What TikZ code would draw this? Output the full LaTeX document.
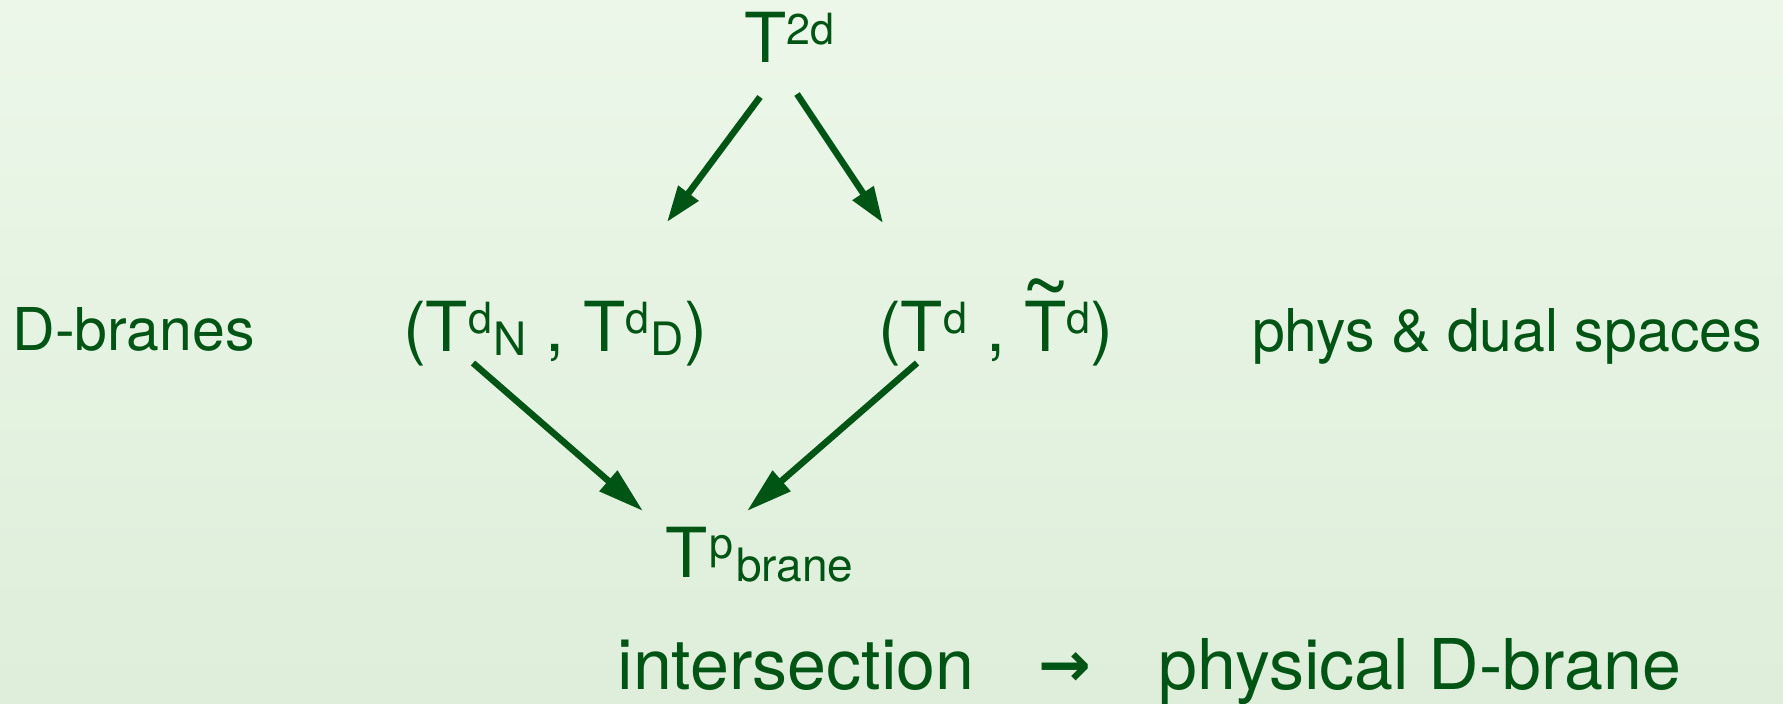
\documentclass[tikz,border=0pt]{standalone}
\usepackage{fontspec}
\setmainfont{TeX Gyre Heros}
\newfontfamily\arrowfont{DejaVu Sans}
\usetikzlibrary{arrows.meta,calc}
\definecolor{dgreen}{RGB}{0,84,20}
\definecolor{bgtop}{RGB}{236,247,233}
\definecolor{bgbot}{RGB}{222,238,218}
\newcommand{\fsz}[1]{\fontsize{#1}{#1}\selectfont}
\newcommand{\sups}[1]{\raisebox{18pt}{\fsz{43}#1}}
\newcommand{\subs}[1]{\raisebox{-4pt}{\fsz{46}\hspace{1pt}#1}}
\newcommand{\tildeT}{\leavevmode\hbox{\ooalign{T\cr\hidewidth\raisebox{36pt}{\fsz{84}\textasciitilde}\hidewidth\cr}}}
\begin{document}
\begin{tikzpicture}[x=1pt,y=-1pt,
  lbl/.style={anchor=base west, inner sep=0pt, outer sep=0pt, text=dgreen},
  big/.style={lbl, font=\fsz{69}},
  side/.style={lbl, font=\fsz{59}},
  foot/.style={lbl, font=\fsz{70}},
  arr/.style={draw=dgreen, line width=6.5pt, -{Triangle[length=36pt,width=24pt]}},
  arrb/.style={draw=dgreen, line width=6.5pt, -{Triangle[length=46pt,width=26pt]}}]
\shade[top color=bgtop, bottom color=bgbot] (0,0) rectangle (1783,704);
\useasboundingbox (0,0) rectangle (1783,704);
\node[big] (top) at (744,62) {T\sups{2d}};
\node[big] (nd) at (403,351) {(T\sups{d}\subs{N} , T\sups{d}\subs{D})};
\node[big] (tt) at (878,351) {(T\sups{d} , \tildeT\sups{d})};
\node[side] (dbr) at (12.5,350) {D-branes};
\node[side] (phys) at (1252,351) {phys \& dual spaces};
\node[big] (tp) at (665.5,577) {T\raisebox{19pt}{\fsz{43}\hspace{1.5pt}p}\subs{\hspace{2pt}brane}};
\node[foot] (inter) at (617.5,689) {intersection};
\node[lbl, font=\arrowfont\bfseries\fsz{63}] (to) at (1038,689) {\raisebox{3pt}{→}};
\node[foot] (physd) at (1158.5,689) {physical D-brane};
\draw[arr] ($(top.base west)+(16,35)$) -- ($(nd.base west)+(264,-129)$);
\draw[arr] ($(top.base west)+(53,32)$) -- ($(tt.base west)+(5,-128)$);
\draw[arrb] ($(nd.base west)+(70,12)$) -- ($(tp.base west)+(-22.5,-66)$);
\draw[arrb] ($(tt.base west)+(39,12)$) -- ($(tp.base west)+(81.5,-66)$);
\end{tikzpicture}
\end{document}
